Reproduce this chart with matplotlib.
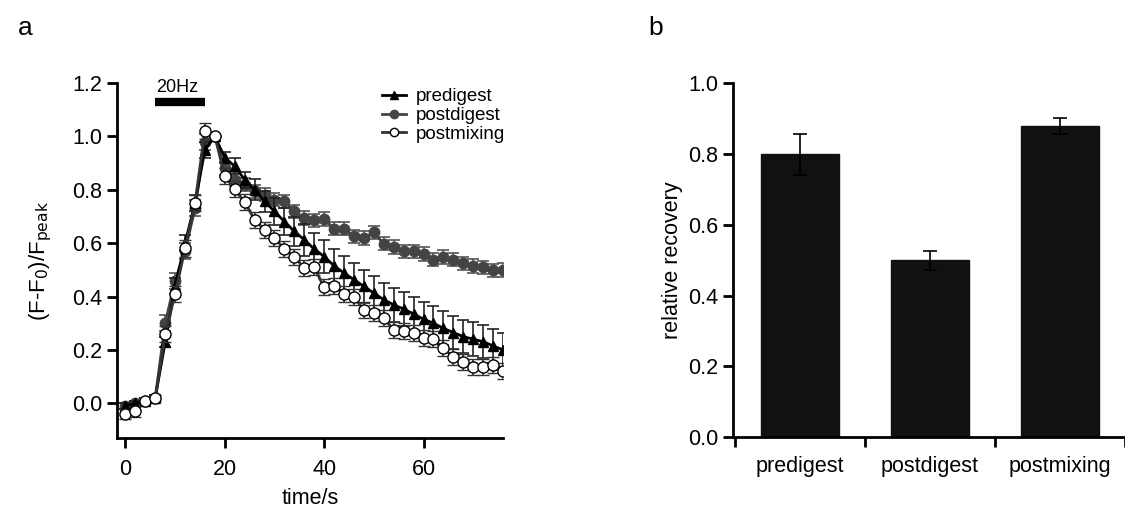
import numpy as np
import matplotlib
matplotlib.use("Agg")
import matplotlib.pyplot as plt
from matplotlib.lines import Line2D

plt.rcParams['font.family'] = ['Liberation Sans', 'DejaVu Sans']

# panel a: time course
t = list(range(0, 78, 2))
predigest = [-0.01, 0.0, 0.01, 0.02, 0.23, 0.44, 0.60, 0.75, 0.95, 1.0,
             0.92, 0.888, 0.838, 0.80, 0.757, 0.719, 0.681, 0.644, 0.613, 0.578,
             0.55, 0.515, 0.488, 0.463, 0.438, 0.413, 0.388, 0.369, 0.353, 0.335,
             0.315, 0.30, 0.281, 0.265, 0.25, 0.24, 0.231, 0.215, 0.20]
predigest_err = [0.01, 0.01, 0.01, 0.01, 0.02, 0.03, 0.03, 0.03, 0.03, 0.0,
                 0.02, 0.03, 0.03, 0.04, 0.04, 0.05, 0.05, 0.055, 0.06, 0.06,
                 0.063, 0.063, 0.063, 0.063, 0.063, 0.063, 0.063, 0.063, 0.063, 0.063,
                 0.063, 0.063, 0.063, 0.063, 0.063, 0.063, 0.063, 0.063, 0.063]
postdigest = [-0.01, 0.0, 0.01, 0.02, 0.30, 0.46, 0.57, 0.73, 0.98, 1.0,
              0.88, 0.838, 0.819, 0.794, 0.782, 0.763, 0.757, 0.719, 0.694, 0.685,
              0.69, 0.654, 0.654, 0.625, 0.619, 0.64, 0.598, 0.585, 0.569, 0.569,
              0.56, 0.538, 0.548, 0.538, 0.525, 0.515, 0.51, 0.498, 0.50]
postdigest_err = [0.01, 0.01, 0.01, 0.01, 0.03, 0.03, 0.03, 0.03, 0.03, 0.0] + [0.025] * 29
postmixing = [-0.04, -0.03, 0.01, 0.02, 0.26, 0.41, 0.58, 0.75, 1.02, 1.0,
              0.85, 0.803, 0.753, 0.688, 0.65, 0.619, 0.578, 0.548, 0.507, 0.51,
              0.434, 0.438, 0.41, 0.398, 0.35, 0.338, 0.319, 0.275, 0.272, 0.263,
              0.246, 0.24, 0.206, 0.175, 0.156, 0.137, 0.137, 0.144, 0.121]
postmixing_err = [0.02, 0.02, 0.01, 0.01, 0.03, 0.03, 0.03, 0.03, 0.03, 0.0] + [0.03] * 29

# panel b: recovery
groups = ["predigest", "postdigest", "postmixing"]
recovery = [0.80, 0.50, 0.88]
recovery_err = [0.058, 0.027, 0.022]

fig = plt.figure(figsize=(11.25, 5.12), dpi=100)

ax1 = fig.add_axes([0.104, 0.1445, 0.3431, 0.6934])
ax1.errorbar(t, postdigest, yerr=postdigest_err, color="#444444", ecolor="#555555",
             marker="o", ms=7.5, mfc="#444444", mec="#444444", lw=2,
             elinewidth=1.2, capsize=4, capthick=1.2, zorder=2)
ax1.errorbar(t, predigest, yerr=predigest_err, color="black", ecolor="#222222",
             marker="^", ms=7.5, mfc="black", mec="black", lw=2,
             elinewidth=1.2, capsize=4, capthick=1.2, zorder=3)
ax1.errorbar(t, postmixing, yerr=postmixing_err, color="#333333", ecolor="#333333",
             marker="o", ms=8, mfc="white", mec="black", mew=1.0, lw=2,
             elinewidth=1.2, capsize=4, capthick=1.2, zorder=4)

ax1.plot([6, 16], [1.127, 1.127], color="black", lw=6, solid_capstyle="butt")
ax1.text(6.2, 1.152, "20Hz", fontsize=13, ha="left", va="bottom")

ax1.set_xlim(-1.7, 76)
ax1.set_ylim(-0.13, 1.2)
ax1.set_xticks([0, 20, 40, 60])
ax1.set_yticks(np.arange(0, 1.21, 0.2))
ax1.set_yticklabels(["%.1f" % v for v in np.arange(0, 1.21, 0.2)])
ax1.spines["top"].set_visible(False)
ax1.spines["right"].set_visible(False)
ax1.spines["left"].set_linewidth(2)
ax1.spines["bottom"].set_linewidth(2)
ax1.tick_params(width=2, length=7, labelsize=15.5)
ax1.tick_params(axis="x", pad=8)
ax1.set_xlabel("time/s", fontsize=15.5, labelpad=6)
ax1.set_ylabel("(F-F$_0$)/F$_{\\mathrm{peak}}$", fontsize=16, labelpad=13)

handles = [
    Line2D([], [], color="black", lw=2, marker="^", ms=6, mfc="black", mec="black"),
    Line2D([], [], color="#444444", lw=2, marker="o", ms=6, mfc="#444444", mec="#444444"),
    Line2D([], [], color="#333333", lw=2, marker="o", ms=6, mfc="white", mec="black"),
]
ax1.legend(handles, ["predigest", "postdigest", "postmixing"], frameon=False, fontsize=13.5,
           loc="upper left", bbox_to_anchor=(0.686, 0.985), handlelength=1.3,
           handletextpad=0.5, labelspacing=0.08, borderaxespad=0.0, borderpad=0.0)

ax2 = fig.add_axes([0.6516, 0.1465, 0.3484, 0.6908])
x = np.arange(len(groups))
ax2.bar(x, recovery, width=0.6, color="#111111", edgecolor="#111111")
ax2.errorbar(x, recovery, yerr=recovery_err, fmt="none", ecolor="black",
             elinewidth=1.2, capsize=5, capthick=1.2)
ax2.set_xlim(-0.515, 2.44)
ax2.set_ylim(0, 1.0)
ax2.set_xticks([-0.5, 0.5, 1.5, 2.5])
ax2.set_xticklabels([])
ax2.set_xticks(x, minor=True)
ax2.set_xticklabels(groups, minor=True)
ax2.tick_params(axis="x", which="minor", length=0, labelsize=15.5, pad=14)
ax2.set_yticks(np.arange(0, 1.01, 0.2))
ax2.set_yticklabels(["%.1f" % v for v in np.arange(0, 1.01, 0.2)])
ax2.spines["top"].set_visible(False)
ax2.spines["right"].set_visible(False)
ax2.spines["left"].set_linewidth(2)
ax2.spines["bottom"].set_linewidth(2)
ax2.tick_params(which="major", width=2, length=7, labelsize=15.5)
ax2.set_ylabel("relative recovery", fontsize=15.5, labelpad=4)

fig.text(18 / 1125, 1 - 28 / 512, "a", fontsize=19, ha="left", va="center")
fig.text(648 / 1125, 1 - 28 / 512, "b", fontsize=19, ha="left", va="center")

fig.savefig("out.png", dpi=100)
